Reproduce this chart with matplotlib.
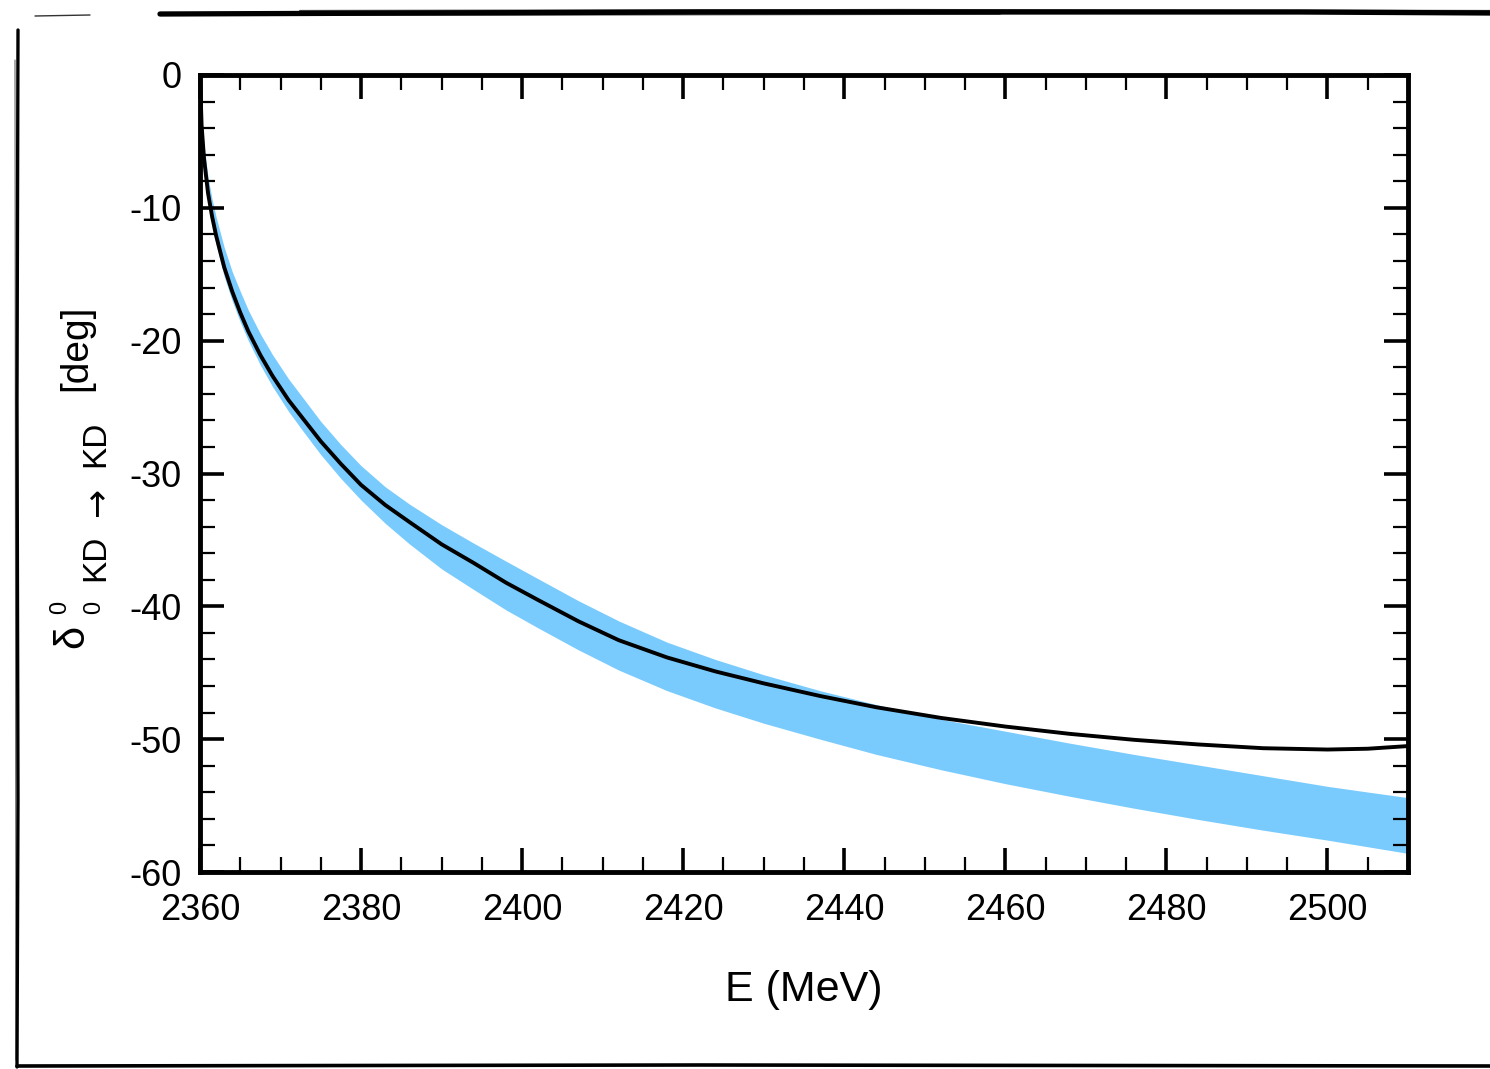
import matplotlib
matplotlib.use("Agg")
import matplotlib.pyplot as plt
from matplotlib.ticker import MultipleLocator
from matplotlib.lines import Line2D

plt.rcParams['font.family'] = ['Liberation Sans', 'DejaVu Sans']
plt.rcParams['axes.unicode_minus'] = False

# ---- data ----
E_line = [2360.0, 2360.2, 2360.5, 2361.0, 2361.5, 2362.0, 2363.0, 2364.0, 2365.0,
          2366.0, 2367.5, 2369.0, 2371.0, 2373.0, 2375.0, 2377.5, 2380.0, 2383.0,
          2386.0, 2390.0, 2394.0, 2398.0, 2402.0, 2407.0, 2412.0, 2418.0, 2424.0,
          2430.0, 2437.0, 2444.0, 2452.0, 2460.0, 2468.0, 2476.0, 2484.0, 2492.0,
          2500.0, 2505.0, 2510.0]
delta_line = [0.0, -3.8, -6.3, -8.9, -10.65, -12.09, -14.46, -16.3, -17.89,
              -19.3, -21.09, -22.65, -24.48, -26.03, -27.58, -29.28, -30.86, -32.37,
              -33.65, -35.33, -36.74, -38.22, -39.53, -41.13, -42.55, -43.85, -44.9,
              -45.8, -46.75, -47.6, -48.4, -49.05, -49.6, -50.05, -50.4, -50.68,
              -50.78, -50.72, -50.52]

E_band = [2360.0, 2360.2, 2360.5, 2361.0, 2361.5, 2362.0, 2363.0, 2364.0, 2365.0,
          2366.0, 2367.5, 2369.0, 2371.0, 2373.0, 2375.0, 2377.5, 2380.0, 2383.0,
          2386.0, 2390.0, 2394.0, 2398.0, 2402.0, 2407.0, 2412.0, 2418.0, 2424.0,
          2430.0, 2437.0, 2444.0, 2452.0, 2460.0, 2468.0, 2476.0, 2484.0, 2492.0,
          2500.0, 2505.0, 2510.0]
band_upper = [0.0, -3.0, -5.3, -7.7, -9.35, -10.69, -12.96, -14.8, -16.29,
              -17.7, -19.49, -21.05, -22.88, -24.48, -26.08, -27.83, -29.41, -31.0,
              -32.3, -33.85, -35.25, -36.6, -37.93, -39.58, -41.1, -42.7, -44.0,
              -45.15, -46.35, -47.4, -48.5, -49.4, -50.3, -51.15, -51.95, -52.75,
              -53.55, -53.98, -54.4]
band_lower = [0.0, -4.4, -7.0, -9.6, -11.35, -12.79, -15.16, -17.0, -18.59,
              -20.0, -21.84, -23.45, -25.33, -26.98, -28.58, -30.38, -32.0, -33.75,
              -35.3, -37.18, -38.74, -40.27, -41.63, -43.28, -44.8, -46.35, -47.65,
              -48.8, -50.0, -51.15, -52.3, -53.35, -54.3, -55.2, -56.05, -56.85,
              -57.6, -58.1, -58.6]

x_ticks = [2360, 2380, 2400, 2420, 2440, 2460, 2480, 2500]
y_ticks = [0, -10, -20, -30, -40, -50, -60]

W, H = 1490, 1069
fig = plt.figure(figsize=(W / 100, H / 100), dpi=100)
fig.patch.set_facecolor('white')

ax = fig.add_axes([200 / W, 1 - 872 / H, (1408 - 200) / W, (872 - 75) / H])

ax.fill_between(E_band, band_lower, band_upper, color='#7acbfd', linewidth=0, zorder=1)
ax.plot(E_line, delta_line, color='black', lw=2.8, zorder=3, solid_joinstyle='round')

ax.set_xlim(2360, 2510)
ax.set_ylim(-60, 0)
ax.set_xticks(x_ticks)
ax.set_yticks(y_ticks)
ax.xaxis.set_minor_locator(MultipleLocator(5))
ax.yaxis.set_minor_locator(MultipleLocator(2))

for sp in ax.spines.values():
    sp.set_linewidth(3.5)

ax.tick_params(which='both', direction='in', top=True, right=True, bottom=True, left=True)
ax.tick_params(which='major', length=17, width=2.6, labelsize=26)
ax.tick_params(which='minor', length=10.5, width=1.6)
ax.tick_params(axis='x', which='major', pad=15)
ax.tick_params(axis='y', which='major', pad=13)

ax.set_xlabel('E (MeV)', fontsize=31, labelpad=30)

# y label pieces (rotated)
fam = ['Liberation Sans', 'DejaVu Sans']
def ftext(xp, yp, s, size, family=fam):
    fig.text(xp / W, 1 - yp / H, s, rotation=90, ha='center', va='center',
             fontsize=size, family=family)

ftext(72, 636, 'δ', 30)
ftext(60, 607, '0', 17)
ftext(94, 607, '0', 17)
ftext(96, 558, 'KD', 24)
ftext(96, 502, '→', 25, ['DejaVu Sans'])
ftext(96, 444, 'KD', 24)
ftext(76, 348, '[deg]', 28)

# sketchy frame
def fline(xs, ys, lw, alpha=1.0):
    fig.add_artist(Line2D([x / W for x in xs], [1 - y / H for y in ys],
                          color='black', lw=lw, alpha=alpha, transform=fig.transFigure,
                          solid_capstyle='round'))

fline([35, 90], [16, 15], 1.0, 0.8)
fline([160, 700, 1300, 1490], [14, 12, 12, 13], 3.8)
fline([300, 900, 1490], [11, 10, 11], 1.6, 0.7)
fline([170, 500, 1000], [15, 15, 14], 1.2, 0.6)
fline([18, 17, 18, 17], [30, 400, 800, 1067], 2.4)
fline([15, 16], [60, 1060], 0.8, 0.6)
fline([17, 700, 1490], [1066, 1065, 1066], 2.6)

fig.savefig('out.png', dpi=100, facecolor='white')
